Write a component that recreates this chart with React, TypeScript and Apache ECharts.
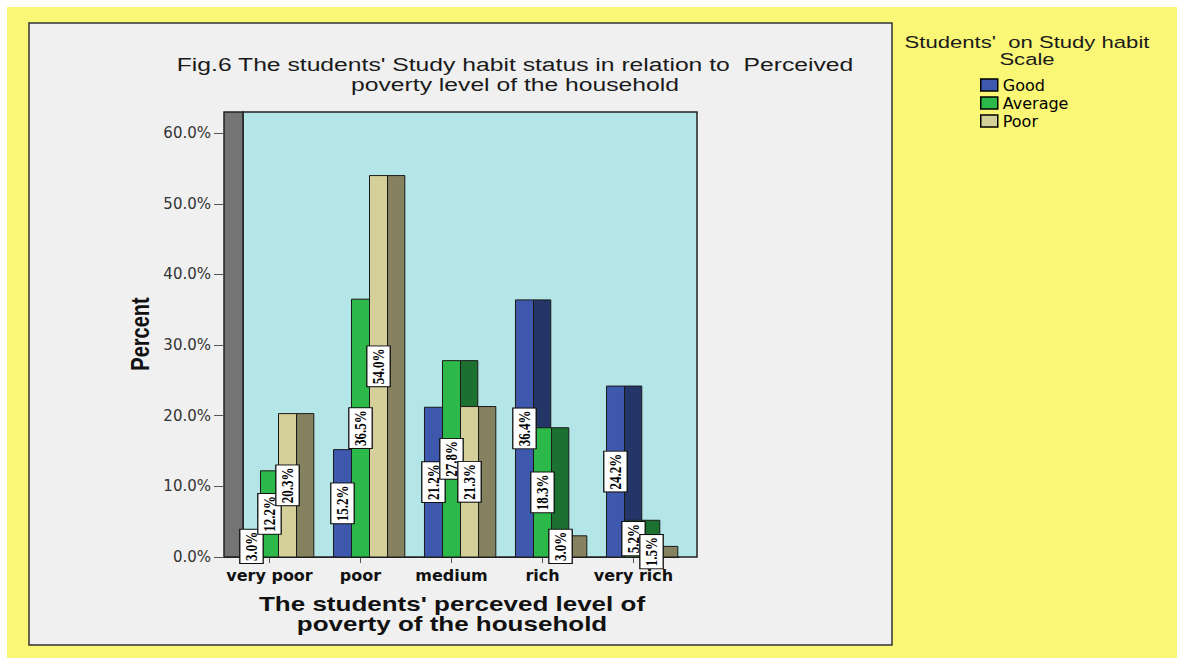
import React, { useEffect, useRef } from "react";
import * as echarts from "echarts";

const categories = ["very poor", "poor", "medium", "rich", "very rich"];
const seriesNames = ["Good", "Average", "Poor"];
const goodValues = [3.0, 15.2, 21.2, 36.4, 24.2];
const averageValues = [12.2, 36.5, 27.8, 18.3, 5.2];
const poorValues = [20.3, 54.0, 21.3, 3.0, 1.5];
const yTickValues = [0, 10, 20, 30, 40, 50, 60];

const frontColors = ["#3d58ad", "#2db84a", "#d5d09a"];
const sideColors = ["#243567", "#1d7130", "#86825f"];

const GRID_LEFT = 224;
const GRID_TOP = 112;
const GRID_WIDTH = 455;
const GRID_HEIGHT = 445;
const DEPTH = 18;

export default function App() {
  const ref = useRef<HTMLDivElement>(null);

  useEffect(() => {
    document.body.style.margin = "0";
    const chart = echarts.init(ref.current!, undefined, { renderer: "svg" });
    const allValues = [goodValues, averageValues, poorValues];

    const series = allValues.map((vals, s) => ({
      type: "custom",
      name: seriesNames[s],
      data: vals.map((v, i) => [i, v]),
      encode: { x: 0, y: 1 },
      itemStyle: { color: frontColors[s] },
      clip: false,
      renderItem: (params: any, api: any) => {
        const idx = api.value(0);
        const val = api.value(1);
        const top = api.coord([idx, val]);
        const base = api.coord([idx, 0]);
        const band = api.size([1, 0])[0];
        const w = band * 0.198;
        const d = band * 0.19;
        const x0 = top[0] - 1.5 * w + s * w;
        const h = base[1] - top[1];
        return {
          type: "group",
          children: [
            {
              type: "rect",
              shape: { x: x0 + w, y: top[1], width: d, height: h },
              style: { fill: sideColors[s], stroke: "#1a1a1a", lineWidth: 1 },
              z2: s * 2,
            },
            {
              type: "rect",
              shape: { x: x0, y: top[1], width: w, height: h },
              style: { fill: frontColors[s], stroke: "#1a1a1a", lineWidth: 1 },
              z2: s * 2 + 1,
            },
            {
              type: "text",
              x: x0 + w / 2,
              y: (top[1] + base[1]) / 2,
              rotation: Math.PI / 2,
              scaleY: 1.3,
              style: {
                text: val.toFixed(1) + "%",
                font: 'bold 13px "Liberation Serif"',
                fill: "#000",
                backgroundColor: "#fff",
                borderColor: "#111",
                borderWidth: 1,
                padding: [2, 2],
                align: "center",
                verticalAlign: "middle",
              },
              z2: 100 + s,
            },
          ],
        };
      },
    }));

    chart.setOption({
      animation: false,
      backgroundColor: "#ffffff",
      grid: { left: GRID_LEFT, top: GRID_TOP, width: GRID_WIDTH, height: GRID_HEIGHT },
      xAxis: {
        type: "category",
        data: categories,
        axisLine: { show: true, lineStyle: { color: "#222", width: 1 } },
        axisTick: { show: true, alignWithLabel: true, length: 6, lineStyle: { color: "#555" } },
        axisLabel: {
          interval: 0,
          margin: 10,
          fontFamily: "DejaVu Sans",
          fontWeight: "bold",
          fontSize: 16,
          color: "#111",
        },
        splitLine: { show: false },
      },
      yAxis: {
        type: "value",
        min: 0,
        max: 63,
        axisLine: { show: false },
        axisTick: { show: true, length: 10, customValues: yTickValues, lineStyle: { color: "#555" } },
        axisLabel: {
          customValues: yTickValues,
          formatter: (v: number) => v.toFixed(1) + "%",
          margin: 13,
          fontFamily: "DejaVu Sans",
          fontSize: 15,
          color: "#333",
        },
        splitLine: { show: false },
      },
      legend: {
        left: 980,
        top: 77,
        orient: "vertical",
        itemWidth: 17,
        itemHeight: 12,
        itemGap: 2,
        padding: 0,
        icon: "rect",
        selectedMode: false,
        data: seriesNames,
        itemStyle: { borderColor: "#000", borderWidth: 1.5 },
        textStyle: { fontFamily: "DejaVu Sans", fontSize: 16, color: "#000", lineHeight: 16 },
      },
      graphic: [
        { type: "rect", z: -10, shape: { x: 7, y: 7, width: 1170, height: 651 }, style: { fill: "#fbf776" } },
        {
          type: "rect",
          z: -9,
          shape: { x: 29, y: 23, width: 863, height: 622 },
          style: { fill: "#f0f0f0", stroke: "#333", lineWidth: 1.5 },
        },
        {
          type: "rect",
          z: -8,
          shape: { x: GRID_LEFT + DEPTH + 1, y: GRID_TOP, width: GRID_WIDTH - 1, height: GRID_HEIGHT },
          style: { fill: "#b4e6e8", stroke: "#222", lineWidth: 1.5 },
        },
        {
          type: "rect",
          z: -7,
          shape: { x: GRID_LEFT, y: GRID_TOP, width: DEPTH + 1, height: GRID_HEIGHT },
          style: { fill: "#747474", stroke: "#222", lineWidth: 1.5 },
        },
        {
          type: "text",
          x: 515,
          y: 75,
          scaleX: 1.3,
          style: {
            text: "Fig.6 The students' Study habit status in relation to  Perceived\npoverty level of the household",
            font: '19px "Liberation Sans"',
            lineHeight: 20,
            fill: "#1a1a1a",
            align: "center",
            verticalAlign: "middle",
          },
        },
        {
          type: "text",
          x: 1027,
          y: 50,
          scaleX: 1.3,
          style: {
            text: "Students'  on Study habit\nScale",
            font: '17px "Liberation Sans"',
            lineHeight: 17,
            fill: "#1a1a1a",
            align: "center",
            verticalAlign: "middle",
          },
        },
        {
          type: "text",
          x: 452,
          y: 614,
          scaleX: 1.3,
          style: {
            text: "The students' perceved level of\npoverty of the household",
            font: 'bold 20px "Liberation Sans"',
            lineHeight: 20,
            fill: "#111",
            align: "center",
            verticalAlign: "middle",
          },
        },
        {
          type: "text",
          x: 140,
          y: 334,
          rotation: Math.PI / 2,
          scaleY: 1.3,
          style: {
            text: "Percent",
            font: 'bold 20px "Liberation Sans"',
            fill: "#111",
            align: "center",
            verticalAlign: "middle",
          },
        },
      ],
      series,
    });

    return () => chart.dispose();
  }, []);

  return <div ref={ref} style={{ width: 1177, height: 658 }} />;
}
